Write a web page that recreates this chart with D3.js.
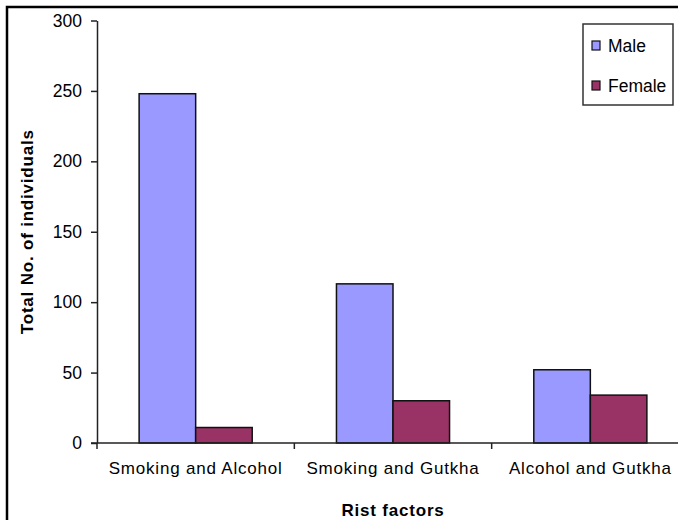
<!DOCTYPE html>
<html>
<head>
<meta charset="utf-8">
<script src="https://cdn.jsdelivr.net/npm/d3@7"></script>
<style>
  html, body { margin: 0; padding: 0; background: #fff; }
  svg { display: block; }
  text { font-family: "Liberation Sans", Arial, sans-serif; fill: #000; }
</style>
</head>
<body>
<svg id="chart" width="678" height="520"></svg>
<script>
// Risk factor combinations and counts by sex
const categories = ["Smoking and Alcohol", "Smoking and Gutkha", "Alcohol and Gutkha"];
const seriesNames = ["Male", "Female"];
const maleValues = [248, 113, 52];
const femaleValues = [11, 30, 34];
const yTicks = [0, 50, 100, 150, 200, 250, 300];
const seriesColors = ["#9999FF", "#993366"];

const svg = d3.select("#chart");

// outer frame
svg.append("rect")
  .attr("x", 7).attr("y", 7)
  .attr("width", 700).attr("height", 540)
  .attr("fill", "none").attr("stroke", "#000").attr("stroke-width", 2.5);

const plotLeft = 97, plotRight = 689, plotTop = 20.5, plotBottom = 443;

const x0 = d3.scaleBand().domain(categories).range([plotLeft, plotRight]).padding(0);
const x1 = d3.scaleBand().domain(seriesNames).range([0, x0.bandwidth()])
  .paddingInner(0).paddingOuter(0.745);
const y = d3.scaleLinear().domain([0, 300]).range([plotBottom, plotTop]);

const rows = categories.map((c, i) => ({
  category: c,
  values: [
    { key: "Male", value: maleValues[i] },
    { key: "Female", value: femaleValues[i] }
  ]
}));

const color = d3.scaleOrdinal().domain(seriesNames).range(seriesColors);

// bars
svg.append("g").selectAll("g")
  .data(rows)
  .join("g")
  .attr("transform", d => `translate(${x0(d.category)},0)`)
  .selectAll("rect")
  .data(d => d.values)
  .join("rect")
  .attr("x", d => x1(d.key))
  .attr("y", d => y(d.value))
  .attr("width", x1.bandwidth())
  .attr("height", d => y(0) - y(d.value))
  .attr("fill", d => color(d.key))
  .attr("stroke", "#111")
  .attr("stroke-width", 1.5);

// y axis
const yAxis = svg.append("g")
  .attr("transform", `translate(${plotLeft},0)`)
  .call(d3.axisLeft(y).tickValues(yTicks).tickSize(6).tickPadding(9).tickSizeOuter(0));
yAxis.select(".domain").attr("stroke", "#222").attr("stroke-width", 1.5);
yAxis.selectAll(".tick line").attr("stroke", "#222").attr("stroke-width", 1.5);
yAxis.selectAll(".tick text")
  .attr("font-size", 17.5).attr("fill", "#000")
  .style("font-family", '"Liberation Sans", Arial, sans-serif');

// x axis: baseline with ticks at category boundaries
const xg = svg.append("g");
xg.append("line")
  .attr("x1", plotLeft - 6).attr("x2", plotRight)
  .attr("y1", y(0)).attr("y2", y(0))
  .attr("stroke", "#222").attr("stroke-width", 1.5);
xg.selectAll("line.sep")
  .data(categories)
  .join("line")
  .attr("class", "sep")
  .attr("x1", d => x0(d)).attr("x2", d => x0(d))
  .attr("y1", y(0)).attr("y2", y(0) + 6)
  .attr("stroke", "#222").attr("stroke-width", 1.5);
xg.selectAll("text")
  .data(categories)
  .join("text")
  .attr("x", d => x0(d) + x0.bandwidth() / 2)
  .attr("y", 474)
  .attr("text-anchor", "middle")
  .attr("font-size", 17)
  .attr("letter-spacing", 0.8)
  .text(d => d);

// axis titles
svg.append("text")
  .attr("x", (plotLeft + plotRight) / 2)
  .attr("y", 516)
  .attr("text-anchor", "middle")
  .attr("font-size", 17)
  .attr("font-weight", "bold")
  .attr("letter-spacing", 0.8)
  .text("Rist factors");

svg.append("text")
  .attr("transform", `translate(33,${(plotTop + plotBottom) / 2}) rotate(-90)`)
  .attr("text-anchor", "middle")
  .attr("font-size", 17)
  .attr("font-weight", "bold")
  .attr("letter-spacing", 0.8)
  .text("Total No. of individuals");

// legend
const legend = svg.append("g").attr("transform", "translate(583,24)");
legend.append("rect")
  .attr("width", 90).attr("height", 81)
  .attr("fill", "#fff").attr("stroke", "#333").attr("stroke-width", 1.5);
const items = legend.selectAll("g.item")
  .data(seriesNames)
  .join("g")
  .attr("class", "item")
  .attr("transform", (d, i) => `translate(9,${17 + i * 40})`);
items.append("rect")
  .attr("width", 8).attr("height", 9)
  .attr("fill", d => color(d))
  .attr("stroke", "#111").attr("stroke-width", 1.2);
items.append("text")
  .attr("x", 16).attr("y", 11)
  .attr("font-size", 17.5)
  .text(d => d);
</script>
</body>
</html>
